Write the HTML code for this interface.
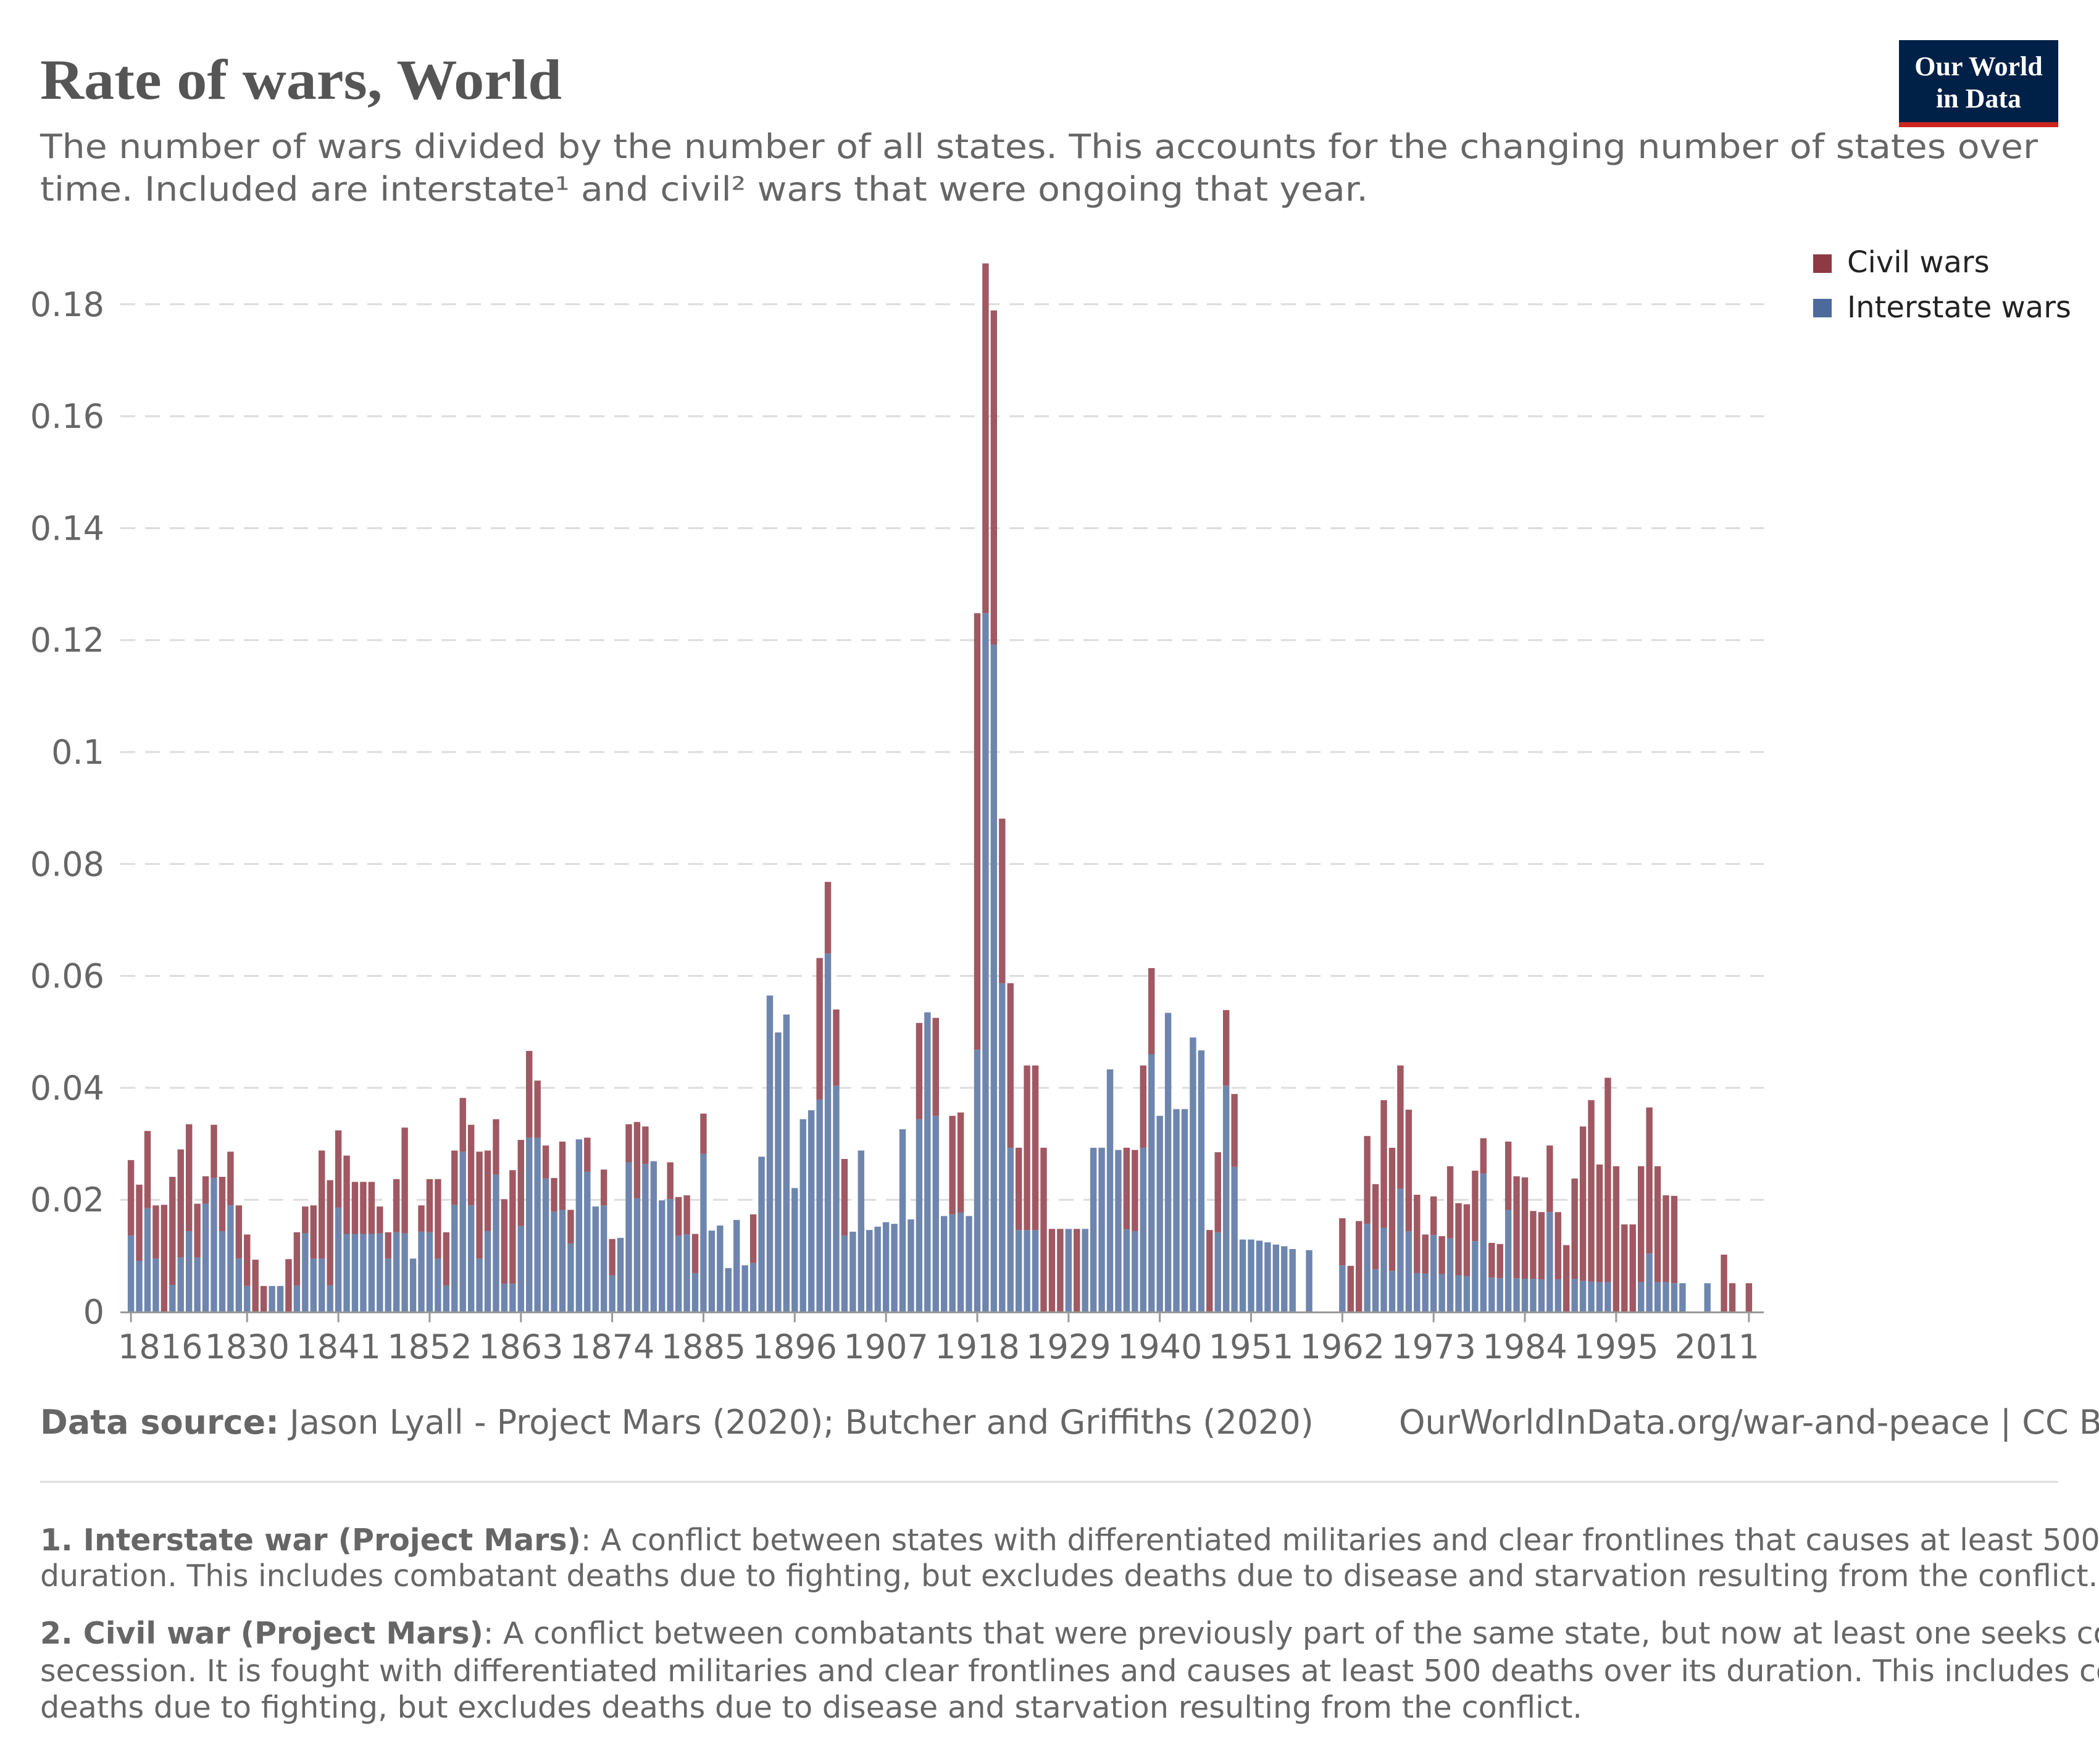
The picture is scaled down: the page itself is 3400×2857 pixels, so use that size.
<!DOCTYPE html>
<html><head><meta charset="utf-8"><title>Rate of wars, World</title>
<style>html,body{margin:0;padding:0;background:#fff;width:3400px;height:2857px;overflow:hidden}svg{display:block}</style>
</head><body>
<svg id="root" width="3400" height="2857" viewBox="0 0 3400 2857" xmlns="http://www.w3.org/2000/svg">
<text x="65" y="160" font-family="Liberation Serif, serif" font-weight="bold" font-size="92" fill="#555" textLength="845" lengthAdjust="spacingAndGlyphs">Rate of wars, World</text>
<text x="65" y="256" font-family="DejaVu Sans, sans-serif" font-size="54" fill="#666" textLength="3236" lengthAdjust="spacingAndGlyphs">The number of wars divided by the number of all states. This accounts for the changing number of states over</text>
<text x="65" y="325" font-family="DejaVu Sans, sans-serif" font-size="54" fill="#666" textLength="2151" lengthAdjust="spacingAndGlyphs">time. Included are interstate¹ and civil² wars that were ongoing that year.</text>
<g>
<rect x="3076" y="65" width="258" height="141" fill="#002147"/>
<rect x="3076" y="198" width="258" height="8" fill="#ce261e"/>
<text x="3205" y="122" text-anchor="middle" font-family="Liberation Serif, serif" font-weight="bold" font-size="44" fill="#fff">Our World</text>
<text x="3205" y="174" text-anchor="middle" font-family="Liberation Serif, serif" font-weight="bold" font-size="44" fill="#fff">in Data</text>
</g>
<g>
<g><rect x="2937" y="412" width="30" height="30" fill="#8d3a45"/><text x="2992" y="441" font-family="DejaVu Sans, sans-serif" font-size="48" fill="#222">Civil wars</text></g>
<g><rect x="2937" y="484" width="30" height="30" fill="#4c6a9c"/><text x="2992" y="514" font-family="DejaVu Sans, sans-serif" font-size="48" fill="#222">Interstate wars</text></g>
</g>
<g id="plot"></g>
<text x="65" y="2322" font-family="DejaVu Sans, sans-serif" font-size="54" fill="#666"><tspan font-weight="bold">Data source:</tspan> Jason Lyall - Project Mars (2020); Butcher and Griffiths (2020)</text>
<text x="2266" y="2322" font-family="DejaVu Sans, sans-serif" font-size="54" fill="#666">OurWorldInData.org/war-and-peace | CC BY</text>
<line x1="65" y1="2400" x2="3334" y2="2400" stroke="#ddd" stroke-width="3"/>
<g font-family="DejaVu Sans, sans-serif" font-size="49" fill="#666">
<text x="65" y="2511"><tspan font-weight="bold">1. Interstate war (Project Mars)</tspan>: A conflict between states with differentiated militaries and clear frontlines that causes at least 500 deaths over its</text>
<text x="65" y="2569">duration. This includes combatant deaths due to fighting, but excludes deaths due to disease and starvation resulting from the conflict.</text>
<text x="65" y="2662"><tspan font-weight="bold">2. Civil war (Project Mars)</tspan>: A conflict between combatants that were previously part of the same state, but now at least one seeks control or</text>
<text x="65" y="2723">secession. It is fought with differentiated militaries and clear frontlines and causes at least 500 deaths over its duration. This includes combatant</text>
<text x="65" y="2782" textLength="2498" lengthAdjust="spacingAndGlyphs">deaths due to fighting, but excludes deaths due to disease and starvation resulting from the conflict.</text>
</g>
</svg>
<script>
const startYear = 1816;
const interstate = [
.0136,.0091,.0185,.0095,0,.0048,.0097,.0144,.0097,.0193,.0239,.0144,.0190,.0095,
.0046,0,0,.0046,.0046,0,.0047,.0140,.0095,.0095,.0047,
.0186,.0139,.0139,.0139,.0139,.0140,.0095,.0142,.0140,.0095,.0143,
.0142,.0095,.0047,.0191,.0286,.0190,.0095,.0144,.0245,.0050,.0050,
.0153,.0311,.0311,.0238,.0179,.0182,.0122,.0308,.0250,.0188,.0190,
.0065,.0132,.0267,.0203,.0264,.0269,.0199,.0201,.0136,.0138,.0069,
.0282,.0145,.0154,.0078,.0164,.0083,.0087,.0277,.0565,.0499,.0531,
.0221,.0344,.0360,.0379,.0640,.0404,.0136,.0143,.0288,.0146,.0152,
.0160,.0157,.0326,.0165,.0344,.0535,.0350,.0171,.0174,.0177,.0171,
.0468,.1248,.1192,.0587,.0293,.0146,.0146,.0146,0,0,0,
.0148,0,.0148,.0293,.0293,.0433,.0289,.0147,.0144,.0293,.0460,
.0350,.0534,.0362,.0362,.0490,.0467,0,.0142,.0404,.0259,.0129,
.0129,.0127,.0124,.0120,.0117,.0112,0,.0110,0,0,0,
.0083,0,0,.0157,.0076,.0150,.0073,.0220,.0144,.0069,.0068,
.0137,.0067,.0131,.0065,.0064,.0126,.0247,.0061,.0060,.0182,.0060,
.0059,.0059,.0058,.0178,.0058,0,.0059,.0055,.0054,.0053,.0053,
0,0,0,.0053,.0104,.0053,.0053,.0051,.0051,0,0,
.0051,0,0,0,0,0
];
const civil = [
.0135,.0136,.0138,.0095,.0191,.0193,.0193,.0191,.0096,.0049,.0095,.0097,.0096,.0095,
.0092,.0093,.0046,0,0,.0094,.0095,.0048,.0095,.0193,.0188,
.0138,.0140,.0093,.0093,.0093,.0048,.0047,.0095,.0189,0,.0047,
.0095,.0142,.0095,.0097,.0096,.0144,.0191,.0144,.0099,.0151,.0203,
.0154,.0155,.0102,.0059,.0060,.0122,.0060,0,.0061,0,.0064,
.0065,0,.0068,.0136,.0067,0,0,.0066,.0069,.0070,.0070,
.0072,0,0,0,0,0,.0087,0,0,0,0,
0,0,0,.0253,.0128,.0136,.0137,0,0,0,0,
0,0,0,0,.0172,0,.0175,0,.0176,.0179,0,
.0780,.0625,.0597,.0294,.0294,.0147,.0294,.0294,.0293,.0148,.0148,
0,.0148,0,0,0,0,0,.0146,.0145,.0147,.0154,
0,0,0,0,0,0,.0146,.0143,.0135,.0130,0,
0,0,0,0,0,0,0,0,0,0,0,
.0084,.0082,.0162,.0157,.0152,.0228,.0220,.0220,.0217,.0140,.0070,
.0069,.0068,.0129,.0129,.0128,.0126,.0063,.0062,.0061,.0122,.0182,
.0181,.0121,.0120,.0119,.0120,.0119,.0179,.0276,.0324,.0210,.0365,
.0260,.0156,.0156,.0207,.0261,.0207,.0155,.0156,0,0,0,
0,0,.0102,.0051,0,.0051
];
const yTicks = [0,0.02,0.04,0.06,0.08,0.1,0.12,0.14,0.16,0.18];
const yTickLabels = ["0","0.02","0.04","0.06","0.08","0.1","0.12","0.14","0.16","0.18"];
const xTickYears = [1816,1830,1841,1852,1863,1874,1885,1896,1907,1918,1929,1940,1951,1962,1973,1984,1995,2011];

const NS = "http://www.w3.org/2000/svg";
const plot = document.getElementById('plot');
const Y0 = 2124.5, PER = 9065; // px per unit value
function yScale(v){ return Y0 - v * PER; }
const X0 = 212.1, STEP = 13.44, BW = 10.4;
function xScale(year){ return X0 + (year - startYear) * STEP; }
function mk(tag, attrs){ const e = document.createElementNS(NS, tag); for (const k in attrs) e.setAttribute(k, attrs[k]); plot.appendChild(e); return e; }

yTicks.forEach((t, i) => {
  const y = yScale(t);
  if (t > 0) {
    const g = mk('line', {x1:195, x2:2857, y1:y, y2:y, stroke:'#dcdcdc', 'stroke-width':3, 'stroke-dasharray':'24,16'});
    
    
  }
  const tx = mk('text', {x:169, y:y+19, 'text-anchor':'end', 'font-family':'DejaVu Sans, sans-serif', 'font-size':54, fill:'#666'});
  tx.textContent = yTickLabels[i];
  
  
});

for (let i = 0; i < interstate.length; i++) {
  const yr = startYear + i;
  const cx = xScale(yr);
  const a = interstate[i], c = civil[i];
  if (a > 0) {
    const r = mk('rect', {x:cx-BW/2, y:yScale(a), width:BW, height:Y0-yScale(a), fill:'#6e86ae'});
    
    
  }
  if (c > 0) {
    const r2 = mk('rect', {x:cx-BW/2, y:yScale(a+c), width:BW, height:yScale(a)-yScale(a+c), fill:'#a05862'});
    
    
  }
}

const axis = mk('line', {x1:195, x2:2857, y1:Y0+1, y2:Y0+1, stroke:'#999', 'stroke-width':3});



xTickYears.forEach((yr, i) => {
  const x = xScale(yr);
  const tk = mk('line', {x1:x, x2:x, y1:Y0, y2:Y0+17, stroke:'#999', 'stroke-width':3});
  
  
  let anchor = 'middle', lx = x;
  if (i === 0) { anchor = 'start'; lx = 191; }
  if (i === xTickYears.length - 1) { anchor = 'end'; lx = 2850; }
  const lb = mk('text', {x:lx, y:2200, 'text-anchor':anchor, 'font-family':'DejaVu Sans, sans-serif', 'font-size':54, fill:'#666'});
  lb.textContent = String(yr);
  
  
});
</script>
</body></html>
